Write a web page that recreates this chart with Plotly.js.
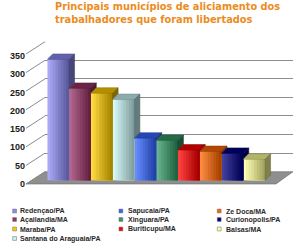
<!DOCTYPE html>
<html>
<head>
<meta charset="utf-8">
<script src="https://cdn.plot.ly/plotly-3.0.1.min.js"></script>
<style>html,body{margin:0;padding:0;background:#fff;}#chart{width:300px;height:248px;}</style>
</head>
<body>
<div id="chart"></div>
<script>
// ---- data ----
const categories = ['Redençao/PA','Açailandia/MA','Maraba/PA','Santana do Araguaia/PA','Sapucaia/PA','Xinguara/PA','Buriticupu/MA','Ze Doca/MA','Curionopolis/PA','Balsas/MA'];
const values = [326, 248, 235, 218, 114, 108, 82, 78, 73, 57];
const yTicks = [0, 50, 100, 150, 200, 250, 300, 350];
const titleLines = ['Principais municípios de aliciamento dos', 'trabalhadores que foram libertados'];

// ---- styles ----
const barColors = ['#8c8cf5','#993366','#ffcc00','#c8f5f5','#3366ff','#339966','#ff0000','#ff6600','#000080','#ffff99'];
const W = 300, H = 248;
const P = (px, py) => [px / W, 1 - py / H];

function hex2rgb(h){h=h.replace('#','');return [parseInt(h.substr(0,2),16),parseInt(h.substr(2,2),16),parseInt(h.substr(4,2),16)];}
function rgb2hex(a){return '#'+a.map(v=>Math.max(0,Math.min(255,Math.round(v))).toString(16).padStart(2,'0')).join('');}
function mix(c1,c2,t){const a=hex2rgb(c1),b=hex2rgb(c2);return rgb2hex(a.map((v,i)=>v+(b[i]-v)*t));}

const n = values.length;
const xs = categories.map((_, i) => i);
const traces = [];

// empty traces so the front and back-wall subplots exist
traces.push({type:'scatter', x:[], y:[], xaxis:'x', yaxis:'y', hoverinfo:'skip'});
traces.push({type:'scatter', x:[], y:[], xaxis:'x2', yaxis:'y2', hoverinfo:'skip'});

// front faces drawn as overlapping strips for a left-to-right shading
const N = 8;
for (let k = 0; k < N; k++) {
  const t = k / (N - 1);
  traces.push({
    type:'bar', x: xs, y: values, xaxis:'x3', yaxis:'y3',
    width: (N - k) / N, offset: -0.5 + k / N,
    marker:{color: barColors.map(c => mix(mix(c,'#ffffff',0.25), mix(c,'#000000',0.35), t)), line:{width:0}},
    hoverinfo:'skip'
  });
}

// depth (in data units of the bar axes)
const DX = 0.2525, DY = 14.8;
for (let i = 0; i < n; i++) {
  const v = values[i], c = xs[i];
  const L = c - 0.5, R = c + 0.5;
  traces.push({
    type:'scatter', mode:'lines', fill:'toself', xaxis:'x3', yaxis:'y3', hoverinfo:'skip',
    x:[L, R, R + DX, L + DX, L], y:[v, v, v + DY, v + DY, v],
    fillcolor: mix(barColors[i], '#000000', 0.3), line:{width:0.5, color: mix(barColors[i], '#000000', 0.45)}
  });
  const base = i < n - 1 ? Math.min(values[i + 1], v) : 0;
  traces.push({
    type:'scatter', mode:'lines', fill:'toself', xaxis:'x3', yaxis:'y3', hoverinfo:'skip',
    x:[R, R, R + DX, R + DX, R], y:[base, v, v + DY, base + DY, base],
    fillcolor: mix(barColors[i], '#000000', 0.5), line:{width:0.5, color: mix(barColors[i], '#000000', 0.6)}
  });
}

// ---- decorations: floor and side wall ----
const shapes = [];
const floorPts = [P(26,184), P(276,184), P(293,171.7), P(45,171.7)];
shapes.push({type:'path', xref:'paper', yref:'paper', layer:'below',
  path: 'M' + floorPts.map(p => p[0] + ',' + p[1]).join('L') + 'Z',
  fillcolor:'#8f8f8f', line:{color:'#6a6a6a', width:0.6}});
yTicks.forEach(v => {
  const yb = 171.7 - v * 130 / 350;
  const a = P(45, yb), b = P(26, yb + 12.3);
  shapes.push({type:'line', xref:'paper', yref:'paper', layer:'below', x0:a[0], y0:a[1], x1:b[0], y1:b[1], line:{color:'#8c8c8c', width:1}});
});

// ---- title ----
const annotations = [];
const tp = P(54, 0.3);
annotations.push({text:'<b>' + titleLines.join('<br>') + '</b>', x: tp[0], y: tp[1], xref:'paper', yref:'paper',
  xanchor:'left', yanchor:'top', align:'left', showarrow:false, borderpad:0,
  font:{family:'DejaVu Sans, Verdana, sans-serif', size:9.8, color:'#eb8c1e'}});

// ---- legend (column-major, 3 columns) ----
const colSq = [12.7, 119, 217.3], colTx = [18, 126.3, 224.3];
const rowY = [211, 219.5, 229, 238.5];
categories.forEach((name, i) => {
  const col = i < 4 ? 0 : (i < 7 ? 1 : 2);
  const row = i < 4 ? i : (i < 7 ? i - 4 : i - 7);
  const yc = rowY[row];
  const a = P(colSq[col], yc - 1.9), b = P(colSq[col] + 3.8, yc + 1.9);
  shapes.push({type:'rect', xref:'paper', yref:'paper', x0:a[0], y0:a[1], x1:b[0], y1:b[1],
    fillcolor: barColors[i], line:{color:'#666666', width:0.5}});
  const t = P(colTx[col], yc);
  annotations.push({text: name, x: t[0], y: t[1], xref:'paper', yref:'paper', xanchor:'left', yanchor:'middle',
    showarrow:false, font:{family:'Liberation Sans, Arial, sans-serif', size:7, color:'#2a2a2a', weight:'bold'}});
});

const layout = {
  width: W, height: H,
  margin:{l:0, r:0, t:0, b:0, pad:0},
  paper_bgcolor:'#ffffff', plot_bgcolor:'rgba(0,0,0,0)',
  showlegend:false, barmode:'overlay',
  xaxis:{domain:[26 / W, 276 / W], range:[0, 1], visible:false, anchor:'y', fixedrange:true},
  yaxis:{domain:[1 - 184 / H, 1 - 55.7 / H], range:[0, 350], tickvals: yTicks, ticktext: yTicks.map(String),
    showgrid:false, zeroline:false, showline:false, ticks:'', anchor:'x', fixedrange:true,
    tickfont:{family:'Liberation Sans, Arial, sans-serif', size:9, color:'#1a1a1a', weight:'bold'}},
  xaxis2:{domain:[45 / W, 293 / W], range:[0, 1], visible:false, anchor:'y2', fixedrange:true},
  yaxis2:{domain:[1 - 171.7 / H, 1 - 41.7 / H], range:[0, 350], tickvals: yTicks, showgrid:true, gridcolor:'#8c8c8c', gridwidth:1,
    showticklabels:false, zeroline:false, showline:false, ticks:'', anchor:'x2', fixedrange:true},
  xaxis3:{domain:[47.26 / W, 275.95 / W], range:[-0.5, 10], visible:false, anchor:'y3', fixedrange:true},
  yaxis3:{domain:[1 - 180.5 / H, 1 - 50.5 / H], range:[0, 350], visible:false, anchor:'x3', fixedrange:true},
  shapes: shapes,
  annotations: annotations
};

Plotly.newPlot('chart', traces, layout, {displayModeBar:false, staticPlot:true});
</script>
</body>
</html>
